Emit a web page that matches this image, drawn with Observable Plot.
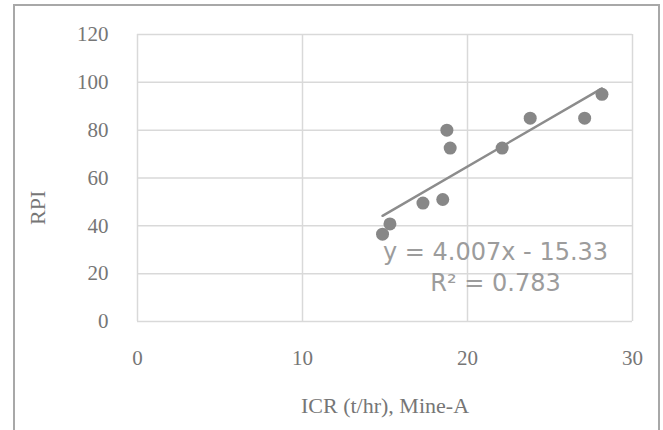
<!DOCTYPE html>
<html>
<head>
<meta charset="utf-8">
<script src="https://cdn.jsdelivr.net/npm/d3@7"></script>
<script src="https://cdn.jsdelivr.net/npm/@observablehq/plot@0.6"></script>
<style>
  html, body { margin: 0; padding: 0; background: #fff; }
  #wrap { position: relative; width: 663px; height: 430px; overflow: hidden; }
  #border { position: absolute; left: 13px; top: 4px; width: 647px; height: 440px;
            border: 2px solid #a8a8a8; border-bottom: none; box-sizing: border-box; }
</style>
</head>
<body>
<div id="wrap"><div id="border"></div></div>
<script>
// Data
const icr = [14.85, 15.3, 17.3, 18.5, 18.75, 18.95, 22.1, 23.8, 27.1, 28.15];
const rpi = [36.5, 40.8, 49.5, 51.0, 80.0, 72.5, 72.5, 85.0, 85.0, 95.0];
const xTicks = [0, 10, 20, 30];
const yTicks = [0, 20, 40, 60, 80, 100, 120];
const slope = 4.007;
const intercept = -15.33;
const rSquared = 0.783;
const xTitle = "ICR (t/hr), Mine-A";
const yTitle = "RPI";
// trendline label anchor (data coords)
const labelAt = [{x: 21.7, y: 23.5}];

const points = icr.map((x, i) => ({x, y: rpi[i]}));
const xMin = d3.min(icr), xMax = d3.max(icr);
const trend = [xMin, xMax].map(x => ({x, y: slope * x + intercept}));
const eqText = `y = ${slope.toFixed(3)}x - ${Math.abs(intercept).toFixed(2)}\nR² = ${rSquared.toFixed(3)}`;

const serif = "'Liberation Serif', 'DejaVu Serif', serif";
const txt = "#767676";

const chart = Plot.plot({
  width: 663,
  height: 430,
  marginLeft: 137,
  marginRight: 31,
  marginTop: 34,
  marginBottom: 109,
  style: {fontFamily: serif, fontSize: "21px", color: txt, background: "transparent"},
  x: {domain: [0, 30]},
  y: {domain: [0, 120]},
  marks: [
    Plot.gridX(xTicks, {stroke: "#d9d9d9", strokeOpacity: 1, strokeWidth: 1.5}),
    Plot.gridY(yTicks, {stroke: "#d9d9d9", strokeOpacity: 1, strokeWidth: 1.5}),
    Plot.axisX({ticks: xTicks, tickSize: 0, tickPadding: 29, label: null, fill: txt, fontFamily: serif, fontSize: 21}),
    Plot.axisY({ticks: yTicks, tickSize: 0, tickPadding: 29, label: null, fill: txt, fontFamily: serif, fontSize: 21}),
    Plot.text([xTitle], {frameAnchor: "bottom", dy: 91, fill: txt, fontFamily: serif, fontSize: 22, text: d => d}),
    Plot.text([yTitle], {frameAnchor: "left", dx: -100, dy: 47, rotate: -90, fill: txt, fontFamily: serif, fontSize: 22, text: d => d}),
    Plot.line(trend, {x: "x", y: "y", stroke: "#8c8c8c", strokeWidth: 2.4}),
    Plot.dot(points, {x: "x", y: "y", r: 6.5, fill: "#878787", stroke: "none"}),
    Plot.text(labelAt, {x: "x", y: "y", text: () => eqText, fontFamily: "'DejaVu Sans', sans-serif",
      fontSize: 24, fill: "#9c9c9c", lineHeight: 1.33, textAnchor: "middle"})
  ]
});
document.getElementById("wrap").prepend(chart);
</script>
</body>
</html>
